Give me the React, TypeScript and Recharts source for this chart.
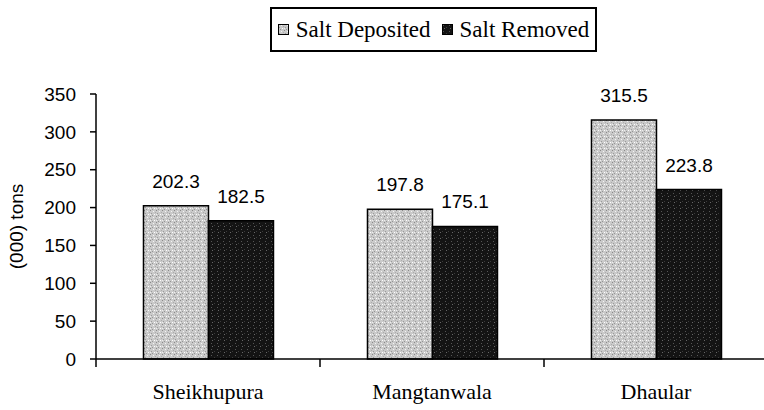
import { BarChart, Bar, XAxis, YAxis, Legend, LabelList } from 'recharts'

// values
const sites = ['Sheikhupura', 'Mangtanwala', 'Dhaular']
const saltDeposited = [202.3, 197.8, 315.5]
const saltRemoved = [182.5, 175.1, 223.8]
const yTicks = [0, 50, 100, 150, 200, 250, 300, 350]

const series = [
  { key: 'deposited', name: 'Salt Deposited', fill: 'url(#stippleLight)' },
  { key: 'removed', name: 'Salt Removed', fill: 'url(#stippleDark)' },
]

const data = sites.map((site, i) => ({
  site,
  deposited: saltDeposited[i],
  removed: saltRemoved[i],
}))

const CHART_W = 780
const CHART_H = 410
const Y_AXIS_W = 96
const MARGIN_RIGHT = 12
const BAND = (CHART_W - Y_AXIS_W - MARGIN_RIGHT) / sites.length

const serif = '"Liberation Serif", "Times New Roman", serif'
const sans = '"Liberation Sans", Arial, sans-serif'

// category label plus a tick mark on the left edge of the category (Excel style)
function SiteTick({ x, y, payload }: any) {
  const edge = x - BAND / 2
  return (
    <g>
      <line x1={edge} y1={y} x2={edge} y2={y + 8} stroke="#000" strokeWidth={1.5} />
      <text x={x} y={y + 40} textAnchor="middle" fontFamily={serif} fontSize={22} fill="#000">
        {payload.value}
      </text>
    </g>
  )
}

function BoxLegend() {
  return (
    <div
      style={{
        boxSizing: 'border-box',
        width: 327,
        height: 45,
        border: '2px solid #000',
        display: 'flex',
        alignItems: 'center',
        justifyContent: 'center',
        fontFamily: serif,
        fontSize: 23,
        color: '#000',
        background: '#fff',
        whiteSpace: 'nowrap',
      }}
    >
      {series.map((s, i) => (
        <span key={s.key} style={{ display: 'flex', alignItems: 'center', marginLeft: i ? 11 : 0 }}>
          <svg width={11} height={11} style={{ marginRight: 7 }}>
            <rect x={0.5} y={0.5} width={10} height={10} fill={s.fill} stroke="#000" strokeWidth={1} />
          </svg>
          {s.name}
        </span>
      ))}
    </div>
  )
}

function YLabel({ viewBox }: any) {
  const cx = 16
  const cy = viewBox.y + viewBox.height / 2
  return (
    <text
      x={cx}
      y={cy}
      transform={`rotate(-90 ${cx} ${cy})`}
      textAnchor="middle"
      dominantBaseline="central"
      fontFamily={sans}
      fontSize={19}
      fill="#000"
    >
      (000) tons
    </text>
  )
}

export default function App() {
  return (
    <div
      style={{
        position: 'absolute',
        left: 0,
        top: 0,
        width: 764,
        height: 410,
        overflow: 'hidden',
        background: '#fff',
      }}
    >
      <BarChart
        width={CHART_W}
        height={CHART_H}
        data={data}
        margin={{ top: 94, right: MARGIN_RIGHT, bottom: 0, left: 0 }}
        barCategoryGap="21.2%"
        barGap={0}
      >
        <defs>
          <pattern id="stippleLight" width={6} height={6} patternUnits="userSpaceOnUse">
            <rect width={6} height={6} fill="#cacaca" />
            <rect x={0} y={0} width={1} height={1} fill="#8a8a8a" />
            <rect x={3} y={1} width={1} height={1} fill="#f4f4f4" />
            <rect x={1} y={3} width={1} height={1} fill="#9a9a9a" />
            <rect x={4} y={4} width={1} height={1} fill="#ffffff" />
            <rect x={2} y={5} width={1} height={1} fill="#959595" />
            <rect x={5} y={2} width={1} height={1} fill="#acacac" />
            <rect x={0} y={4} width={1} height={1} fill="#eeeeee" />
          </pattern>
          <pattern id="stippleDark" width={6} height={6} patternUnits="userSpaceOnUse">
            <rect width={6} height={6} fill="#141414" />
            <rect x={1} y={1} width={1} height={1} fill="#555555" />
            <rect x={4} y={3} width={1} height={1} fill="#3a3a3a" />
            <rect x={2} y={4} width={1} height={1} fill="#666666" />
          </pattern>
        </defs>
        <XAxis
          dataKey="site"
          height={51}
          axisLine={{ stroke: '#000', strokeWidth: 1.5 }}
          tickLine={false}
          tickSize={0}
          tickMargin={0}
          tick={<SiteTick />}
          interval={0}
        />
        <YAxis
          width={Y_AXIS_W}
          domain={[0, 350]}
          ticks={yTicks}
          interval={0}
          axisLine={{ stroke: '#000', strokeWidth: 1.5 }}
          tickLine={{ stroke: '#000', strokeWidth: 1.5 }}
          tickSize={6}
          tickMargin={14}
          tick={{ fill: '#000', fontSize: 19, fontFamily: sans }}
          label={{ content: <YLabel /> }}
        />
        <Legend
          layout="vertical"
          align="center"
          verticalAlign="middle"
          wrapperStyle={{ top: 7, left: 270, width: 327, height: 45 }}
          content={<BoxLegend />}
        />
        {series.map((s) => (
          <Bar
            key={s.key}
            dataKey={s.key}
            name={s.name}
            fill={s.fill}
            stroke="#000"
            strokeWidth={1.5}
            isAnimationActive={false}
          >
            <LabelList
              dataKey={s.key}
              position="top"
              offset={18}
              fill="#000"
              fontSize={19}
              fontFamily={sans}
            />
          </Bar>
        ))}
      </BarChart>
    </div>
  )
}
